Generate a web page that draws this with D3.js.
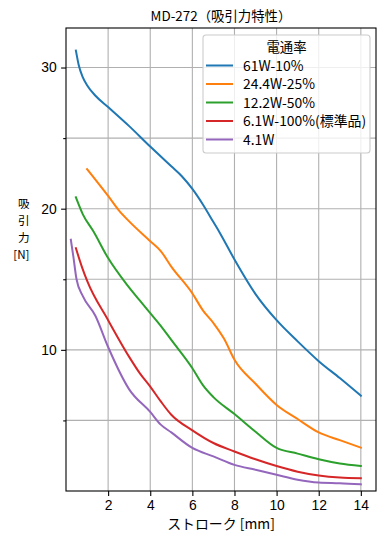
<!DOCTYPE html>
<html>
<head>
<meta charset="utf-8">
<script src="https://cdn.jsdelivr.net/npm/d3@7"></script>
<style>
  body { margin: 0; background: #fff; }
  svg { display: block; font-family: "Noto Sans CJK JP", "DejaVu Sans", sans-serif; }
</style>
</head>
<body>
<div id="chart"></div>
<script>
// 吸引力特性データ (ストローク mm -> 吸引力 N)
const seriesNames = ['61W-10%', '24.4W-25%', '12.2W-50%', '6.1W-100%(標準品)', '4.1W'];
const colors = ['#1f77b4', '#ff7f0e', '#2ca02c', '#d62728', '#9467bd'];

const stroke61 = [0.47, 0.6, 0.8, 1, 1.4, 2, 3, 4, 5, 5.5, 6, 6.5, 7, 7.3, 8, 9, 10, 11, 12, 13, 14];
const force61 = [31.2, 30.2, 29.3, 28.75, 28.0, 27.2, 25.85, 24.4, 23.0, 22.3, 21.4, 20.3, 19.05, 18.3, 16.4, 13.95, 12.1, 10.6, 9.2, 8.0, 6.75];

const stroke24 = [1, 2, 2.5, 3, 4, 4.5, 5, 6, 6.5, 7, 7.5, 8, 9, 10, 11, 12, 13, 14];
const force24 = [22.8, 20.9, 19.9, 19.1, 17.7, 17.0, 15.9, 14.0, 12.8, 11.9, 10.8, 9.3, 7.6, 6.1, 5.1, 4.15, 3.6, 3.07];

const stroke12 = [0.47, 0.8, 1.3, 2, 2.9, 3.5, 4, 4.5, 5, 6, 6.5, 7, 8, 9, 10, 11, 12, 13, 14];
const force12 = [20.8, 19.6, 18.4, 16.5, 14.6, 13.5, 12.6, 11.7, 10.7, 8.7, 7.5, 6.65, 5.45, 4.2, 3.05, 2.65, 2.25, 1.95, 1.77];

const stroke6 = [0.47, 0.75, 1, 2, 3, 3.5, 4, 4.5, 5, 6, 7, 8, 9, 10, 11, 12, 13, 14];
const force6 = [17.2, 15.9, 14.9, 12.1, 9.5, 8.35, 7.4, 6.35, 5.4, 4.3, 3.4, 2.8, 2.25, 1.77, 1.37, 1.1, 0.95, 0.9];

const stroke4 = [0.23, 0.35, 0.5, 0.8, 1.4, 2, 3, 4, 4.5, 5, 6, 7, 8, 9, 10, 11, 12, 13, 14];
const force4 = [17.8, 16.6, 15.0, 13.8, 12.4, 10.2, 7.2, 5.6, 4.7, 4.15, 3.05, 2.45, 1.85, 1.5, 1.15, 0.8, 0.6, 0.55, 0.47];

const strokes = [stroke61, stroke24, stroke12, stroke6, stroke4];
const forces = [force61, force24, force12, force6, force4];

const xTicks = [2, 4, 6, 8, 10, 12, 14];
const yMajorTicks = [10, 20, 30];
const yMinorTicks = [5, 15, 25];

const W = 385, H = 545;
const margin = { top: 28, right: 9, bottom: 54, left: 66 };
const iw = W - margin.left - margin.right;
const ih = H - margin.top - margin.bottom;
const FS = 13.9;

const svg = d3.select('#chart').append('svg')
  .attr('width', W)
  .attr('height', H);

const x = d3.scaleLinear().domain([0, 14.72]).range([0, iw]);
const y = d3.scaleLinear().domain([0, 32.8]).range([ih, 0]);

const g = svg.append('g').attr('transform', `translate(${margin.left},${margin.top})`);

// グリッド
g.append('g').selectAll('line')
  .data(xTicks)
  .join('line')
  .attr('x1', d => x(d)).attr('x2', d => x(d))
  .attr('y1', 0).attr('y2', ih)
  .attr('stroke', '#b0b0b0').attr('stroke-width', 1.1);

g.append('g').selectAll('line')
  .data(yMajorTicks.concat(yMinorTicks))
  .join('line')
  .attr('x1', 0).attr('x2', iw)
  .attr('y1', d => y(d)).attr('y2', d => y(d))
  .attr('stroke', '#b0b0b0').attr('stroke-width', 1.1);

// 曲線
const line = d3.line()
  .x(d => x(d[0]))
  .y(d => y(d[1]))
  .curve(d3.curveMonotoneX);

seriesNames.forEach((name, i) => {
  const pts = strokes[i].map((s, j) => [s, forces[i][j]]);
  g.append('path')
    .datum(pts)
    .attr('fill', 'none')
    .attr('stroke', colors[i])
    .attr('stroke-width', 2)
    .attr('stroke-linejoin', 'round')
    .attr('stroke-linecap', 'square')
    .attr('d', line);
});

// 軸
const xAxis = g.append('g')
  .attr('transform', `translate(0,${ih})`)
  .call(d3.axisBottom(x).tickValues(xTicks).tickSize(4.9).tickPadding(4.5).tickFormat(d3.format('d')));

const yAxis = g.append('g')
  .call(d3.axisLeft(y).tickValues(yMajorTicks).tickSize(4.9).tickPadding(4.5).tickFormat(d3.format('d')));

const yMinor = g.append('g')
  .call(d3.axisLeft(y).tickValues(yMinorTicks).tickSize(2.8).tickFormat(''));

[xAxis, yAxis, yMinor].forEach(a => {
  a.select('.domain').remove();
  a.selectAll('text').attr('font-size', FS).attr('fill', '#000').attr('font-family', null);
  a.selectAll('line').attr('stroke', '#000').attr('stroke-width', 1.1);
});

// 枠
g.append('rect')
  .attr('width', iw).attr('height', ih)
  .attr('fill', 'none')
  .attr('stroke', '#000')
  .attr('stroke-width', 1.1);

// タイトル・軸ラベル
svg.append('text')
  .attr('x', margin.left + iw / 2)
  .attr('y', 20.5)
  .attr('text-anchor', 'middle')
  .attr('font-size', 13.4)
  .text('MD-272（吸引力特性）');

svg.append('text')
  .attr('x', margin.left + iw / 2)
  .attr('y', 529)
  .attr('text-anchor', 'middle')
  .attr('font-size', FS)
  .text('ストローク [mm]');

// 縦書き風のy軸ラベル（行ごとに別テキスト）
['吸', '引', '力', '[N]'].forEach((t, i) => {
  svg.append('text')
    .attr('x', 29.5)
    .attr('y', 208 + i * 17)
    .attr('text-anchor', 'end')
    .attr('font-size', 11.6)
    .text(t);
});

// 凡例
const lg = svg.append('g').attr('transform', 'translate(203,35)');
lg.append('rect')
  .attr('width', 167).attr('height', 118)
  .attr('rx', 3)
  .attr('fill', 'rgba(255,255,255,0.8)')
  .attr('stroke', '#cccccc')
  .attr('stroke-width', 1.1);

lg.append('text')
  .attr('x', 83.5).attr('y', 16.5)
  .attr('text-anchor', 'middle')
  .attr('font-size', 13.4)
  .text('電通率');

seriesNames.forEach((name, i) => {
  const yy = 30.5 + i * 18.5;
  lg.append('line')
    .attr('x1', 3).attr('x2', 30)
    .attr('y1', yy).attr('y2', yy)
    .attr('stroke', colors[i])
    .attr('stroke-width', 2);
  lg.append('text')
    .attr('x', 40).attr('y', yy + 5)
    .attr('font-size', FS)
    .text(name);
});
</script>
</body>
</html>
